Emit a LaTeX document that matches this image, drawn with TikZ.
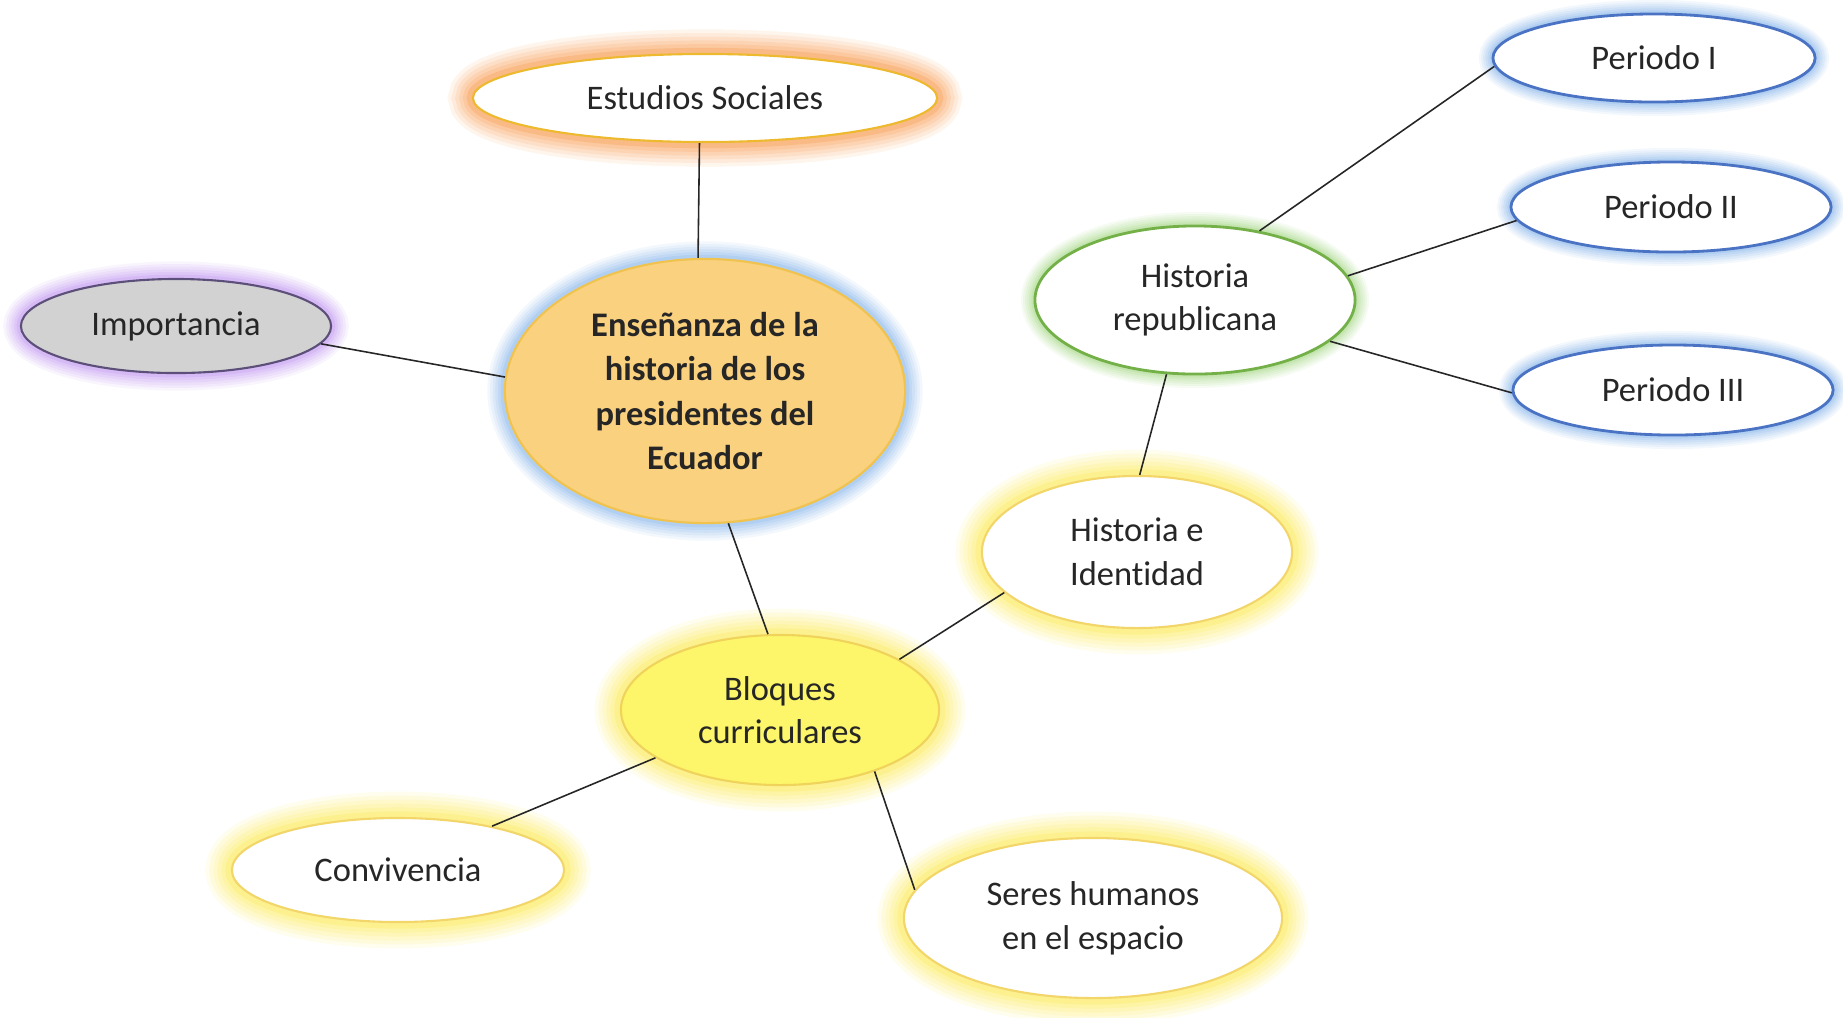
\documentclass[tikz,border=0pt]{standalone}
\usepackage{fontspec}
\setmainfont[Ligatures=NoCommon]{Carlito}
\usetikzlibrary{shapes.geometric}
\definecolor{orglow}{HTML}{F79A4E}
\definecolor{goldline}{HTML}{EDB92E}
\definecolor{centrefill}{HTML}{FAD17F}
\definecolor{centreline}{HTML}{F0C24E}
\definecolor{blueglow}{HTML}{8DB8EA}
\definecolor{impfill}{HTML}{D2D2D2}
\definecolor{impline}{HTML}{5C4F7A}
\definecolor{purpleglow}{HTML}{C39AF0}
\definecolor{greenline}{HTML}{74B048}
\definecolor{greenglow}{HTML}{A9D98A}
\definecolor{perline}{HTML}{4A73C4}
\definecolor{yelglow}{HTML}{FBEA5A}
\definecolor{yelline}{HTML}{F2D66A}
\definecolor{bloqfill}{HTML}{FDF66A}
\definecolor{bloqline}{HTML}{EFD35A}
\definecolor{txt}{HTML}{262626}
\tikzset{
  bub/.style={ellipse, draw, line width=0.6pt, align=center, inner sep=0pt,
    font=\fontsize{9.8}{12.4}\selectfont, text=txt},
  glow/.style 2 args={
    preaction={draw=#1, line width=#2pt, draw opacity=0.10},
    preaction={draw=#1, line width=0.85*#2pt, draw opacity=0.12},
    preaction={draw=#1, line width=0.7*#2pt, draw opacity=0.14},
    preaction={draw=#1, line width=0.55*#2pt, draw opacity=0.16},
    preaction={draw=#1, line width=0.4*#2pt, draw opacity=0.2},
    preaction={draw=#1, line width=0.25*#2pt, draw opacity=0.3}},
  link/.style={draw=black!85, line width=0.45pt}
}
\begin{document}
\begin{tikzpicture}[x=0.01cm, y=-0.01cm]
\useasboundingbox (0,0) rectangle (1843,1017);
\node[bub, glow={orglow}{14}, draw=goldline, fill=white,
  minimum width=4.64cm, minimum height=0.88cm] (es) at (705,98) {Estudios Sociales};
\node[bub, glow={blueglow}{10}, draw=centreline, fill=centrefill,
  minimum width=4.00cm, minimum height=2.64cm, font=\bfseries\fontsize{9.8}{12.6}\selectfont] (c) at (705,391)
  {Enseñanza de la\\historia de los\\presidentes del\\Ecuador};
\node[bub, glow={purpleglow}{10}, draw=impline, fill=impfill,
  minimum width=3.10cm, minimum height=0.94cm] (imp) at (176,326) {Importancia};
\node[bub, glow={greenglow}{8}, draw=greenline, fill=white, line width=0.8pt,
  minimum width=3.20cm, minimum height=1.48cm] (hr) at (1195,300) {Historia\\republicana};
\node[bub, glow={blueglow}{8}, draw=perline, fill=white, line width=0.8pt,
  minimum width=3.22cm, minimum height=0.88cm] (p1) at (1654,58) {Periodo I};
\node[bub, glow={blueglow}{8}, draw=perline, fill=white, line width=0.8pt,
  minimum width=3.20cm, minimum height=0.90cm] (p2) at (1671,207) {Periodo II};
\node[bub, glow={blueglow}{8}, draw=perline, fill=white, line width=0.8pt,
  minimum width=3.20cm, minimum height=0.90cm] (p3) at (1673,390) {Periodo III};
\node[bub, glow={yelglow}{15}, draw=yelline, fill=white,
  minimum width=3.10cm, minimum height=1.52cm] (hi) at (1137,552) {Historia e\\Identidad};
\node[bub, glow={yelglow}{15}, draw=bloqline, fill=bloqfill,
  minimum width=3.18cm, minimum height=1.50cm] (bq) at (780,710) {Bloques\\curriculares};
\node[bub, glow={yelglow}{15}, draw=yelline, fill=white,
  minimum width=3.32cm, minimum height=1.04cm] (cv) at (398,870) {Convivencia};
\node[bub, glow={yelglow}{15}, draw=yelline, fill=white,
  minimum width=3.78cm, minimum height=1.60cm] (sh) at (1093,918) {Seres humanos\\en el espacio};
\draw[link] (es.263) -- (c.93);
\draw[link] (imp.-7) -- (c.176);
\draw[link] (c.280) -- (bq.99);
\draw[link] (bq.23) -- (hi.197);
\draw[link] (hr.249) -- (hi.88);
\draw[link] (hr.47) -- (p1.183);
\draw[link] (hr.9) -- (p2.185);
\draw[link] (hr.-17.5) -- (p3.181);
\draw[link] (bq.201) -- (cv.25);
\draw[link] (bq.-33) -- (sh.171);
\end{tikzpicture}
\end{document}
